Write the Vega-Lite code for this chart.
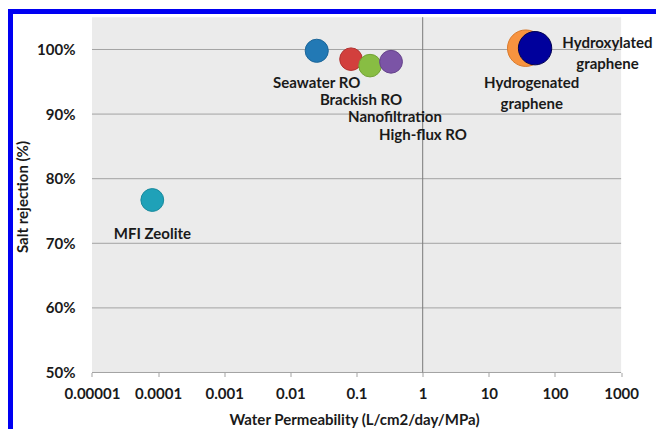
{
  "$schema": "https://vega.github.io/schema/vega-lite/v6.json",
  "autosize": {"type": "none"},
  "padding": {"left": 10.5, "top": 11.5, "right": -34, "bottom": -31},
  "width": 679.5,
  "height": 448.5,
  "background": "white",
  "config": {
    "view": {"stroke": "#0000f2", "strokeWidth": 5, "fill": "white"},
    "font": "Lato",
    "text": {"font": "Lato", "fontWeight": "bold", "fontSize": 15, "fill": "#1a1a1a", "lineBreak": "\n", "lineHeight": 21}
  },
  "datasets": {
    "membranes": [
      {"membrane": "Seawater RO", "permeability": 0.025, "rejection": 0.998, "bubble": 1.03},
      {"membrane": "Brackish RO", "permeability": 0.0824, "rejection": 0.985, "bubble": 0.98},
      {"membrane": "Nanofiltration", "permeability": 0.160, "rejection": 0.975, "bubble": 0.98},
      {"membrane": "High-flux RO", "permeability": 0.332, "rejection": 0.981, "bubble": 1.0},
      {"membrane": "MFI Zeolite", "permeability": 0.0000816, "rejection": 0.767, "bubble": 1.0},
      {"membrane": "Hydrogenated graphene", "permeability": 36.1, "rejection": 1.002, "bubble": 2.56},
      {"membrane": "Hydroxylated graphene", "permeability": 50, "rejection": 1.002, "bubble": 2.14}
    ],
    "labels": [
      {"label": "Seawater RO", "lx": 0.025, "ly": 0.948},
      {"label": "Brackish RO", "lx": 0.1167, "ly": 0.922},
      {"label": "Nanofiltration", "lx": 0.381, "ly": 0.896},
      {"label": "High-flux RO", "lx": 1.01, "ly": 0.868},
      {"label": "MFI Zeolite", "lx": 0.000082, "ly": 0.715},
      {"label": "Hydrogenated\ngraphene", "lx": 44.5, "ly": 0.948},
      {"label": "Hydroxylated\ngraphene", "lx": 622, "ly": 1.0105}
    ],
    "plotarea": [{"x1": 0.00001, "x2": 1000, "y1": 0.5, "y2": 1.05}],
    "gridlines": [{"level": 0.6}, {"level": 0.7}, {"level": 0.8}, {"level": 0.9}, {"level": 1.0}]
  },
  "layer": [
    {
      "data": {"name": "plotarea"},
      "mark": {"type": "rect", "color": "#ebebeb"},
      "encoding": {
        "x": {
          "field": "x1", "type": "quantitative",
          "scale": {"type": "log", "domain": [5.861e-7, 11000], "nice": false, "zero": false},
          "axis": {
            "orient": "bottom", "offset": -87.5, "zindex": 1,
            "values": [0.00001, 0.0001, 0.001, 0.01, 0.1, 1, 10, 100, 1000],
            "format": "~f",
            "domain": false, "grid": false,
            "ticks": true, "tickSize": 4, "tickColor": "#a3a3a3",
            "labelFont": "Lato", "labelFontWeight": "bold", "labelFontSize": 15, "labelColor": "#1a1a1a", "labelPadding": 10,
            "labelFlush": false, "labelOverlap": false,
            "title": "Water Permeability (L/cm2/day/MPa)",
            "titleFont": "Lato", "titleFontWeight": "bold", "titleFontSize": 15, "titleColor": "#1a1a1a",
            "titleX": 343.5, "titleY": 46.5, "titleAlign": "center", "titleBaseline": "middle"
          }
        },
        "x2": {"field": "x2"},
        "y": {
          "field": "y1", "type": "quantitative",
          "scale": {"domain": [0.36455, 1.0588], "nice": false, "zero": false},
          "axis": {
            "orient": "left", "offset": -81.5, "zindex": 1,
            "values": [0.5, 0.6, 0.7, 0.8, 0.9, 1.0],
            "format": ".0%",
            "domain": false, "grid": false, "ticks": false, "tickSize": 0,
            "labelFont": "Lato", "labelFontWeight": "bold", "labelFontSize": 15, "labelColor": "#1a1a1a", "labelPadding": 17,
            "labelFlush": false, "labelOverlap": false,
            "title": "Salt rejection (%)",
            "titleFont": "Lato", "titleFontWeight": "bold", "titleFontSize": 15, "titleColor": "#1a1a1a",
            "titleAngle": 270, "titleX": -70, "titleY": 185, "titleAlign": "center", "titleBaseline": "middle"
          }
        },
        "y2": {"field": "y2"}
      }
    },
    {
      "data": {"name": "gridlines"},
      "mark": {"type": "rule", "color": "#a3a3a3", "strokeWidth": 1},
      "encoding": {
        "y": {"field": "level", "type": "quantitative", "scale": {"domain": [0.36455, 1.0588], "nice": false, "zero": false}},
        "x": {"datum": 0.00001, "type": "quantitative", "scale": {"type": "log", "domain": [5.861e-7, 11000], "nice": false, "zero": false}},
        "x2": {"datum": 1000}
      }
    },
    {
      "data": {"name": "plotarea"},
      "mark": {"type": "rule", "color": "#a3a3a3", "strokeWidth": 1},
      "encoding": {
        "y": {"field": "y1", "type": "quantitative", "scale": {"domain": [0.36455, 1.0588], "nice": false, "zero": false}},
        "x": {"field": "x1", "type": "quantitative", "scale": {"type": "log", "domain": [5.861e-7, 11000], "nice": false, "zero": false}},
        "x2": {"field": "x2"}
      }
    },
    {
      "data": {"name": "plotarea"},
      "mark": {"type": "rule", "color": "#7a7a7a", "strokeWidth": 1},
      "encoding": {
        "x": {"datum": 1, "type": "quantitative", "scale": {"type": "log", "domain": [5.861e-7, 11000], "nice": false, "zero": false}},
        "y": {"field": "y1", "type": "quantitative", "scale": {"domain": [0.36455, 1.0588], "nice": false, "zero": false}},
        "y2": {"field": "y2"}
      }
    },
    {
      "data": {"name": "membranes"},
      "mark": {"type": "point", "shape": "circle", "filled": true, "opacity": 1, "strokeWidth": 1, "strokeOpacity": 1},
      "encoding": {
        "x": {"field": "permeability", "type": "quantitative", "scale": {"type": "log", "domain": [5.861e-7, 11000], "nice": false, "zero": false}},
        "y": {"field": "rejection", "type": "quantitative", "scale": {"domain": [0.36455, 1.0588], "nice": false, "zero": false}},
        "size": {"field": "bubble", "type": "quantitative", "legend": null, "scale": {"type": "linear", "domain": [0, 1], "range": [0, 520], "zero": true}},
        "color": {
          "field": "membrane", "type": "nominal", "legend": null,
          "scale": {
            "domain": ["Seawater RO", "Brackish RO", "Nanofiltration", "High-flux RO", "MFI Zeolite", "Hydrogenated graphene", "Hydroxylated graphene"],
            "range": ["#2279b5", "#d23f3d", "#88bd43", "#7b54a6", "#1fa1b8", "#f7933f", "#00009c"]
          }
        },
        "stroke": {
          "field": "membrane", "type": "nominal", "legend": null,
          "scale": {
            "domain": ["Seawater RO", "Brackish RO", "Nanofiltration", "High-flux RO", "MFI Zeolite", "Hydrogenated graphene", "Hydroxylated graphene"],
            "range": ["#1b6598", "#b23331", "#73a236", "#66448c", "#188a9d", "#d97a2c", "#000050"]
          }
        }
      }
    },
    {
      "data": {"name": "labels"},
      "mark": {"type": "text", "align": "center", "baseline": "middle"},
      "encoding": {
        "x": {"field": "lx", "type": "quantitative", "scale": {"type": "log", "domain": [5.861e-7, 11000], "nice": false, "zero": false}},
        "y": {"field": "ly", "type": "quantitative", "scale": {"domain": [0.36455, 1.0588], "nice": false, "zero": false}},
        "text": {"field": "label", "type": "nominal"}
      }
    }
  ]
}
